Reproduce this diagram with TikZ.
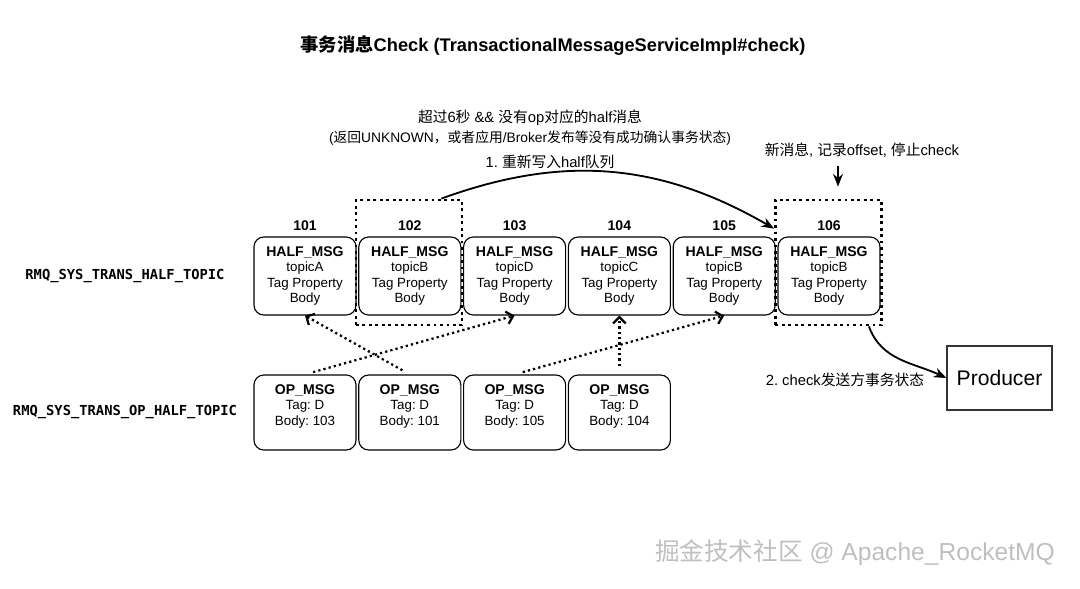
\documentclass[tikz,border=0pt]{standalone}
\usepackage{fontspec}
\setmainfont{Liberation Sans}
\newfontfamily\cjk{Noto Sans CJK SC}
\newfontfamily\rmqmono{DejaVu Sans Mono}
\usetikzlibrary{arrows.meta, calc, positioning}
\newcommand{\zh}[1]{{\cjk #1}}
\frenchspacing

\begin{document}
\begin{tikzpicture}[x=0.025cm, y=-0.025cm,
		msgbox/.style={draw=black, line width=0.8pt, rounded corners=7pt, minimum width=2.55cm, minimum height=1.95cm, inner sep=0pt, align=center, font=\fontsize{9.5}{11}\selectfont},
		opbox/.style={msgbox, minimum height=1.875cm},
		idx/.style={font=\bfseries\fontsize{10}{12}\selectfont},
		topiclbl/.style={font=\rmqmono\bfseries\fontsize{9.8}{12}\selectfont},
		selbox/.style={draw=black, line width=2pt, dash pattern=on 2pt off 2.6pt, minimum width=2.65cm, minimum height=3.125cm, inner sep=0pt},
		note/.style={font=\fontsize{10.5}{13}\selectfont, align=center},
		solidarrow/.style={-{Stealth[length=9pt, width=7pt]}, line width=1.3pt},
		oparrow/.style={-{Straight Barb[length=4.5pt, width=9pt]}, line width=1.6pt, dash pattern=on 1.6pt off 2.2pt, shorten <=6pt}
		]
		\useasboundingbox (0,0) rectangle (1080,588);
		
		% ==========================================
		% 1. TITLE
		% ==========================================
		\node[font=\bfseries\fontsize{13}{15}\selectfont] (title) at (553,46) {\zh{事务消息}Check (TransactionalMessageServiceImpl\#check)};
		
		% ==========================================
		% 2. HALF AND OP QUEUES
		% ==========================================
		% Data format: index / topic letter
		\foreach \i/\tpc in {1/A,2/B,3/D,4/C,5/B,6/B} {
			\node[msgbox] (h\i) at ({305+104.8*(\i-1)}, 276) {{\bfseries\fontsize{10}{11}\selectfont HALF\_MSG}\\topic\tpc\\Tag Property\\Body};
			\node[idx] (n\i) at ({305+104.8*(\i-1)}, 226) {10\i};
		}
		% Data format: index / offset of the half message it closes
		\foreach \i/\opref in {1/103,2/101,3/105,4/104} {
			\node[opbox] (o\i) at ({305+104.8*(\i-1)}, 412.5) {{\bfseries\fontsize{10}{11}\selectfont OP\_MSG}\\Tag: D\\Body: \opref\\\mbox{}};
		}
		\node[topiclbl] (halftopic) at (125,276) {RMQ\_SYS\_TRANS\_HALF\_TOPIC};
		\node[topiclbl] (optopic) at (125,412) {RMQ\_SYS\_TRANS\_OP\_HALF\_TOPIC};
		
		% Dotted frames for the checked messages
		\node[selbox] (sel2) at (409,262.5) {};
		\node[selbox] (sel6) at (828.5,262.5) {};
		
		% ==========================================
		% 3. NOTES AND PRODUCER
		% ==========================================
		\node[note] (why) at (530,118) {\zh{超过}6\zh{秒} \&\& \zh{没有}op\zh{对应的}half\zh{消息}};
		\node[note, font=\fontsize{9.8}{12}\selectfont] (whynote) at (530,138) {(\zh{返回}UNKNOWN\zh{，或者应用}/Broker\zh{发布等没有成功确认事务状态})};
		\node[note] (step1) at (550,162) {1. \zh{重新写入}half\zh{队列}};
		\node[note] (newmsg) at (862,150) {\zh{新消息}, \zh{记录}offset, \zh{停止}check};
		\node[note] (step2) at (845,380) {2. check\zh{发送方事务状态}};
		\node[draw=black!80, line width=0.8pt, minimum width=2.625cm, minimum height=1.6cm, font=\fontsize{15}{17}\selectfont] (producer) at (999.5,378) {Producer};
		\node[font=\fontsize{17.5}{20}\selectfont, text=gray!50] (mark) at (855,553) {\zh{掘金技术社区} @ Apache\_RocketMQ};
		
		% ==========================================
		% 4. ARROWS
		% ==========================================
		\draw[solidarrow] ($(sel2.north east)+(-22,0)$) to[out=20, in=150] ($(sel6.north west)+(0,30)$);
		\draw[solidarrow] ($(sel6.south east)+(-14,0)$) to[out=-70, in=155] (producer.west);
		\draw[solidarrow, line width=1.1pt] ($(newmsg.south)+(-24,4)$) -- ($(sel6.north)+(9.5,-12)$);
		\foreach \from/\to in {o1/h3, o2/h1, o3/h5, o4/h4}
			\draw[oparrow] (\from.north) -- (\to.south);
		
	\end{tikzpicture}
\end{document}
